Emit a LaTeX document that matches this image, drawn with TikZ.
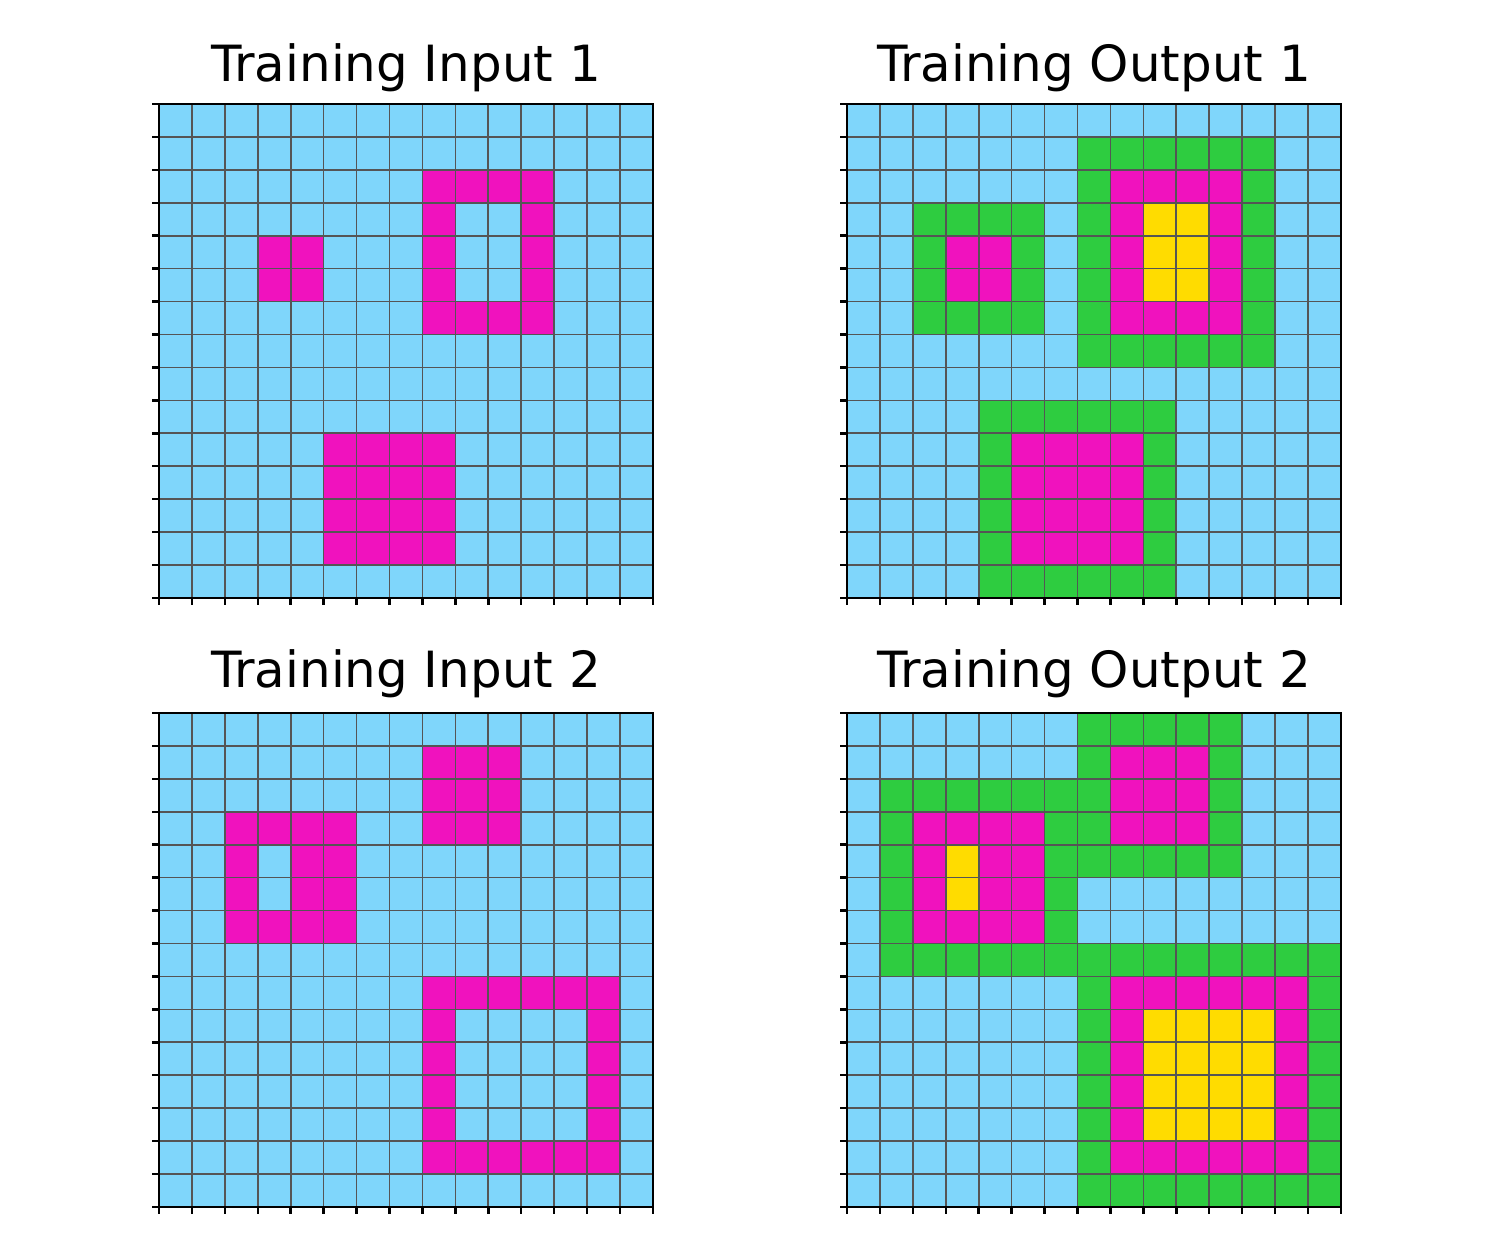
\documentclass[tikz,border=0pt]{standalone}
\usepackage{fontspec}
\setmainfont{DejaVu Sans}
\definecolor{arcazure}{HTML}{7FD6FB}
\definecolor{arcmagenta}{HTML}{F012BE}
\definecolor{arcgreen}{HTML}{2ECC40}
\definecolor{arcyellow}{HTML}{FFDC00}
\definecolor{gridgrey}{HTML}{555555}
\tikzset{
  cellgrid/.style={draw=gridgrey, line width=0.48pt},
  gridframe/.style={draw=black, line width=0.75pt},
  axtick/.style={draw=black, line width=0.7pt},
  paneltitle/.style={font=\fontsize{14.2}{17}\selectfont, anchor=base}
}
% one 15x15 panel, top-left corner at (#1,#2), cells in #3
\newcommand\gridpanel[3]{
  \begin{scope}[shift={(#1,#2)}, x=0.3293cm, y=-0.3293cm]
    \fill[arcazure] (0,0) rectangle (15,15);
    #3
    \foreach \k in {1,...,14} {
      \draw[cellgrid] (\k,0) -- (\k,15);
      \draw[cellgrid] (0,\k) -- (15,\k);
    }
    \draw[gridframe] (0,0) rectangle (15,15);
    \foreach \k in {0,...,15} {
      \draw[axtick] (0,\k) -- ++(-0.07cm,0);
      \draw[axtick] (\k,15) -- ++(0,-0.07cm);
    }
  \end{scope}
}

\begin{document}
\begin{tikzpicture}
  \useasboundingbox (0,0) rectangle (15,12.59);

  %%%%% TITLES %%%%%
  \node[paneltitle] (tin1) at (4.06,11.77) {Training Input 1};
  \node[paneltitle] (tout1) at (10.94,11.77) {Training Output 1};
  \node[paneltitle] (tin2) at (4.06,5.71) {Training Input 2};
  \node[paneltitle] (tout2) at (10.94,5.71) {Training Output 2};

  %%%%% INPUT 1 %%%%%
  \gridpanel{1.59}{11.55}{
    \fill[arcmagenta] (8,2) rectangle (12,7);
    \fill[arcazure] (9,3) rectangle (11,6);
    \fill[arcmagenta] (3,4) rectangle (5,6);
    \fill[arcmagenta] (5,10) rectangle (9,14);
  }

  %%%%% OUTPUT 1 %%%%%
  \gridpanel{8.47}{11.55}{
    \fill[arcgreen] (2,3) rectangle (6,7);
    \fill[arcmagenta] (3,4) rectangle (5,6);
    \fill[arcgreen] (7,1) rectangle (13,8);
    \fill[arcmagenta] (8,2) rectangle (12,7);
    \fill[arcyellow] (9,3) rectangle (11,6);
    \fill[arcgreen] (4,9) rectangle (10,15);
    \fill[arcmagenta] (5,10) rectangle (9,14);
  }

  %%%%% INPUT 2 %%%%%
  \gridpanel{1.59}{5.46}{
    \fill[arcmagenta] (8,1) rectangle (11,4);
    \fill[arcmagenta] (2,3) rectangle (6,7);
    \fill[arcazure] (3,4) rectangle (4,6);
    \fill[arcmagenta] (8,8) rectangle (14,14);
    \fill[arcazure] (9,9) rectangle (13,13);
  }

  %%%%% OUTPUT 2 %%%%%
  \gridpanel{8.47}{5.46}{
    \fill[arcgreen] (7,0) rectangle (12,5);
    \fill[arcmagenta] (8,1) rectangle (11,4);
    \fill[arcgreen] (1,2) rectangle (7,8);
    \fill[arcmagenta] (2,3) rectangle (6,7);
    \fill[arcyellow] (3,4) rectangle (4,6);
    \fill[arcgreen] (7,7) rectangle (15,15);
    \fill[arcmagenta] (8,8) rectangle (14,14);
    \fill[arcyellow] (9,9) rectangle (13,13);
  }
\end{tikzpicture}
\end{document}
